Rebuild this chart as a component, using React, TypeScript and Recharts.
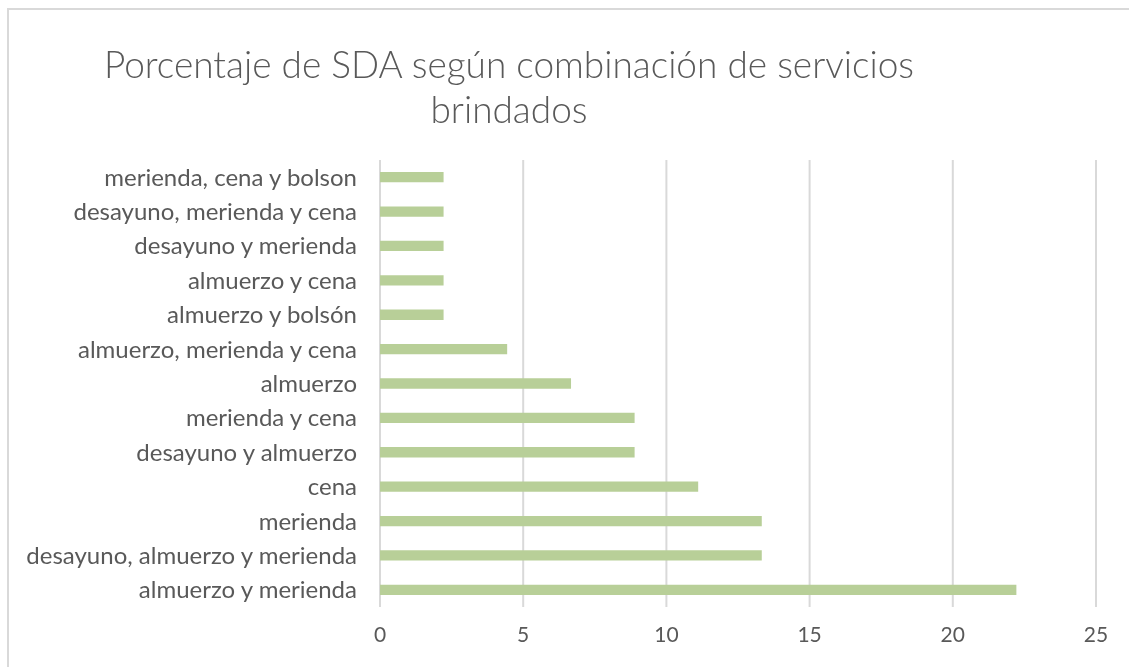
import { BarChart, Bar, XAxis, YAxis, CartesianGrid } from 'recharts';

const categories = [
  'merienda, cena y bolson',
  'desayuno, merienda y cena',
  'desayuno y merienda',
  'almuerzo y cena',
  'almuerzo y bolsón',
  'almuerzo, merienda y cena',
  'almuerzo',
  'merienda y cena',
  'desayuno y almuerzo',
  'cena',
  'merienda',
  'desayuno, almuerzo y merienda',
  'almuerzo y merienda',
];
const percentages = [2.22, 2.22, 2.22, 2.22, 2.22, 4.44, 6.67, 8.89, 8.89, 11.11, 13.33, 13.33, 22.22];
const xTicks = [0, 5, 10, 15, 20, 25];

const data = categories.map((name, i) => ({ name, value: percentages[i] }));

const TEXT = '#595959';
const FONT = 'Lato, Calibri, sans-serif';

export default function App() {
  return (
    <div
      style={{
        position: 'fixed',
        left: 7,
        top: 8,
        width: 1122,
        height: 659,
        boxSizing: 'border-box',
        borderTop: '2px solid #d9d9d9',
        borderLeft: '2px solid #d9d9d9',
        fontFamily: FONT,
        overflow: 'hidden',
      }}
    >
      <div
        style={{
          position: 'absolute',
          left: 0,
          top: 31,
          width: 1000,
          textAlign: 'center',
          color: TEXT,
          fontSize: 37,
          fontWeight: 300,
          lineHeight: '45px',
        }}
      >
        Porcentaje de SDA según combinación de servicios
        <br />
        brindados
      </div>
      <div style={{ position: 'absolute', left: -2, top: -2 }}>
        <BarChart
          width={1122}
          height={659}
          data={data}
          layout="vertical"
          margin={{ top: 152, right: 33, left: 0, bottom: 0 }}
          barCategoryGap="65%"
        >
          <CartesianGrid horizontal={false} stroke="#d9d9d9" strokeWidth={2} />
          <XAxis
            type="number"
            domain={[0, 25]}
            ticks={xTicks}
            axisLine={false}
            tickLine={false}
            height={60}
            tickMargin={14}
            tick={{ fill: TEXT, fontSize: 21, fontFamily: FONT }}
          />
          <YAxis
            type="category"
            dataKey="name"
            width={373}
            axisLine={false}
            tickLine={false}
            tickSize={0}
            tickMargin={23}
            interval={0}
            tick={{ fill: TEXT, fontSize: 24, fontFamily: FONT }}
          />
          <Bar dataKey="value" fill="#b8cf98" isAnimationActive={false} />
        </BarChart>
      </div>
    </div>
  );
}
